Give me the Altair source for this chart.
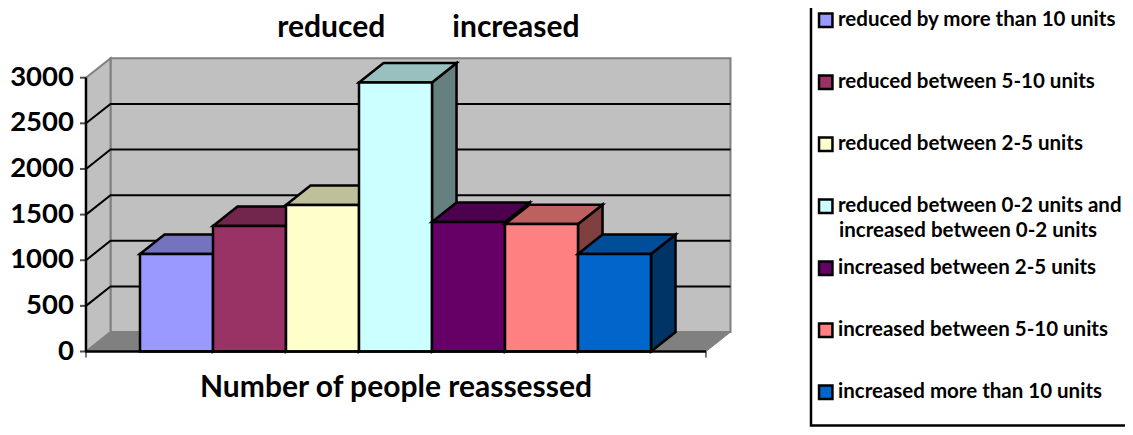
import altair as alt
import pandas as pd

categories = ["reduced by more than 10 units", "reduced between 5-10 units", "reduced between 2-5 units",
              "reduced between 0-2 units and", "increased between 2-5 units",
              "increased between 5-10 units", "increased more than 10 units"]
continuation = "increased between 0-2 units"
values = [1068, 1375, 1605, 2948, 1420, 1396, 1068]
front = ["#9999FF", "#993366", "#FFFFCC", "#CCFFFF", "#660066", "#FF8080", "#0066CC"]
top = ["#7373BF", "#73264D", "#BFBF99", "#99BFBF", "#4D004D", "#BF6060", "#004D99"]
side = ["#4D4D80", "#4D1A33", "#808066", "#668080", "#330033", "#804040", "#003366"]
ticks = [0, 500, 1000, 1500, 2000, 2500, 3000]

DX, DY = 0.336, 213      # depth of the 3D view, in scale units
XL, XR = -0.74, 7.753    # floor ends
YMAX = 3000
FONT = "Lato"

xs = alt.Scale(domain=[0, 7], range=[132, 643], clamp=False)
ys = alt.Scale(domain=[0, 3000], range=[343.5, 69.7], clamp=False)
X = lambda f: alt.X(f, type="quantitative", scale=xs, axis=None)
Y = lambda f: alt.Y(f, type="quantitative", scale=ys, axis=None)

wall_back = pd.DataFrame({"x": [XL + DX, XR + DX], "y": [DY, DY], "y2": [YMAX + DY] * 2})
wall_left = pd.DataFrame({"x": [XL, XL + DX], "y": [0, DY], "y2": [YMAX, YMAX + DY]})
floor = pd.DataFrame({"y": [0, DY], "x": [XL, XL + DX], "x2": [XR, XR + DX]})


def area(df, color, stroke, sw=1.5, orient="vertical"):
    enc = dict(x=X("x"), y=Y("y"))
    if orient == "vertical":
        enc["y2"] = "y2"
    else:
        enc["x2"] = "x2"
    return alt.Chart(df).mark_area(color=color, stroke=stroke, strokeWidth=sw, orient=orient, strokeJoin="miter").encode(**enc)


layers = [
    area(wall_back, "#C0C0C0", "#808080", 2),
    area(wall_left, "#C0C0C0", "#808080", 2),
    area(floor, "#808080", "#808080", 1, "horizontal"),
]

grid_rows = []
for i, t in enumerate(ticks[1:-1]):
    grid_rows += [{"g": i, "x": XL, "y": t}, {"g": i, "x": XL + DX, "y": t + DY}, {"g": i, "x": XR + DX, "y": t + DY}]
layers.append(alt.Chart(pd.DataFrame(grid_rows)).mark_line(color="black", strokeWidth=2).encode(x=X("x"), y=Y("y"), detail="g:N"))

for i, (v, f, t, s) in enumerate(zip(values, front, top, side)):
    sd = pd.DataFrame({"x": [i + 1, i + 1 + DX], "y": [0, DY], "y2": [v, v + DY]})
    tp = pd.DataFrame({"y": [v, v + DY], "x": [i, i + DX], "x2": [i + 1, i + 1 + DX]})
    fr = pd.DataFrame({"x": [i], "x2": [i + 1], "y": [0], "y2": [v]})
    layers.append(area(sd, s, "black", 2.5))
    layers.append(area(tp, t, "black", 2.5, "horizontal"))
    layers.append(alt.Chart(fr).mark_rect(color=f, stroke="black", strokeWidth=2.5).encode(x=X("x"), x2="x2", y=Y("y"), y2="y2"))

layers.append(alt.Chart(pd.DataFrame({"x": [XL], "y": [0], "y2": [YMAX]})).mark_rule(color="black", strokeWidth=2.5).encode(x=X("x"), y=Y("y"), y2="y2"))
layers.append(alt.Chart(pd.DataFrame({"x": [XL], "x2": [XR], "y": [0]})).mark_rule(color="black", strokeWidth=2.5).encode(x=X("x"), x2="x2", y=Y("y")))
axis_df = pd.DataFrame({"t": ticks, "x": [XL] * len(ticks)})
layers.append(alt.Chart(axis_df).mark_tick(color="black", orient="horizontal", size=6, thickness=2, xOffset=-3).encode(x=X("x"), y=Y("t")))
layers.append(alt.Chart(axis_df).mark_text(font=FONT, fontWeight="bold", fontSize=27.5, align="right", baseline="middle", dx=-12, color="black").encode(x=X("x"), y=Y("t"), text="t:Q"))

layers.append(alt.Chart(pd.DataFrame({"x": [XL, XR], "y": [0, 0]})).mark_tick(color="black", orient="vertical", size=6, thickness=1.5, yOffset=3).encode(x=X("x"), y=Y("y"), ))

title_df = pd.DataFrame({"x": [2.62, 5.15], "y": [3548, 3548], "t": ["reduced", "increased"]})
layers.append(alt.Chart(title_df).mark_text(font=FONT, fontWeight="bold", fontSize=30, color="black").encode(x=X("x"), y=Y("y"), text="t:N"))
xt_df = pd.DataFrame({"x": [3.507], "y": [-395], "t": ["Number of people reassessed"]})
layers.append(alt.Chart(xt_df).mark_text(font=FONT, fontWeight="bold", fontSize=30, color="black").encode(x=X("x"), y=Y("y"), text="t:N"))

# legend frame: only its left and bottom edges lie inside the picture
layers.append(alt.Chart(pd.DataFrame({"a": [0]})).mark_rect(fillOpacity=0, stroke="black", strokeWidth=2.5).encode(
    x=alt.value(803), x2=alt.value(1160), y=alt.value(-20), y2=alt.value(417.5)))

# continuation of the fourth legend label
layers.append(alt.Chart(pd.DataFrame({"t": [continuation]})).mark_text(
    font=FONT, fontWeight="bold", fontSize=20.5, color="black", align="left", baseline="middle").encode(
    x=alt.value(831), y=alt.value(223), text="t:N"))

legend_df = pd.DataFrame({"c": categories})
layers.append(
    alt.Chart(legend_df).mark_point(opacity=0, filled=True, shape="square").encode(
        color=alt.Color("c:N", scale=alt.Scale(domain=categories, range=front),
                        legend=alt.Legend(title=None, orient="none", legendX=802.5, legendY=-3,
                                          symbolType="square", symbolSize=180, symbolStrokeColor="black",
                                          symbolStrokeWidth=2.5, symbolOpacity=1,
                                          labelFont=FONT, labelFontWeight="bold", labelFontSize=20.5, labelColor="black",
                                          labelLimit=400, rowPadding=38, labelOffset=2,
                                          labelBaseline="middle",
                                          columns=1, padding=5, values=categories))
    )
)

chart = alt.layer(*layers).properties(
    width=1117, height=419, padding=0, autosize=alt.AutoSizeParams(type="none"),
).configure_view(stroke=None)
chart.save("out.html", embed_options={"renderer": "svg", "actions": False})
